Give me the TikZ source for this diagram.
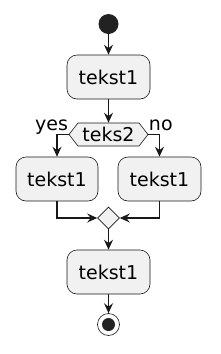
\documentclass[tikz,border=0pt]{standalone}
\usepackage{fontspec}
\setmainfont{DejaVu Sans}
\usepackage{tikz}
\usetikzlibrary{positioning, arrows.meta, shapes.geometric, shapes.symbols}

\definecolor{linegray}{HTML}{181818}
\definecolor{boxgray}{HTML}{F1F1F1}
\definecolor{dotgray}{HTML}{222222}

\begin{document}
\begin{tikzpicture}[
    x=1pt, y=-1pt,
    font=\fontsize{19}{23}\selectfont,
    action/.style={draw=linegray, fill=boxgray, line width=0.6pt, rounded corners=10pt, minimum width=83pt, minimum height=44pt, inner sep=0pt},
    choice/.style={draw=linegray, fill=boxgray, line width=0.6pt, signal, signal to=east and west, signal pointer angle=104, minimum width=79pt, minimum height=23pt, inner sep=0pt},
    merge/.style={draw=linegray, fill=boxgray, line width=0.6pt, diamond, minimum width=22pt, minimum height=22pt, inner sep=0pt},
    flow/.style={draw=linegray, line width=1.2pt, -{Stealth[length=10pt, width=9pt, inset=3.5pt]}},
    lbl/.style={inner sep=0pt}
]
\useasboundingbox (0,0) rectangle (220,354);

\node[circle, fill=dotgray, minimum size=20pt, inner sep=0pt] (start) at (108.5,24) {};
\node[action] (act1) at (108.5,77) {tekst1};
\node[choice] (dec) at (108.5,134.5) {teks2};
\node[action, minimum width=82pt] (left) at (57,179) {tekst1};
\node[action] (right) at (159.5,179) {tekst1};
\node[merge] (join) at (108.5,218) {};
\node[action] (act4) at (108.5,272) {tekst1};
\node[circle, draw=linegray, fill=white, line width=0.6pt, minimum size=22pt, inner sep=0pt] (stop) at (108.5,324.5) {};
\node[circle, fill=dotgray, minimum size=13pt, inner sep=0pt] (stopdot) at (stop.center) {};

% connectors
\draw[flow] (start) -- (act1);
\draw[flow] (act1) -- (dec.north);
\draw[flow] (dec.west) -| node[lbl, pos=0, anchor=base east, yshift=4pt] (yes) {yes} (left.north);
\draw[flow] (dec.east) -| node[lbl, pos=0, anchor=base west, yshift=4pt] (no) {no} (right.north);
\draw[flow] (left.south) |- (join.west);
\draw[flow] (right.south) |- (join.east);
\draw[flow] (join.south) -- (act4.north);
\draw[flow] (act4) -- (stop);
\end{tikzpicture}
\end{document}
